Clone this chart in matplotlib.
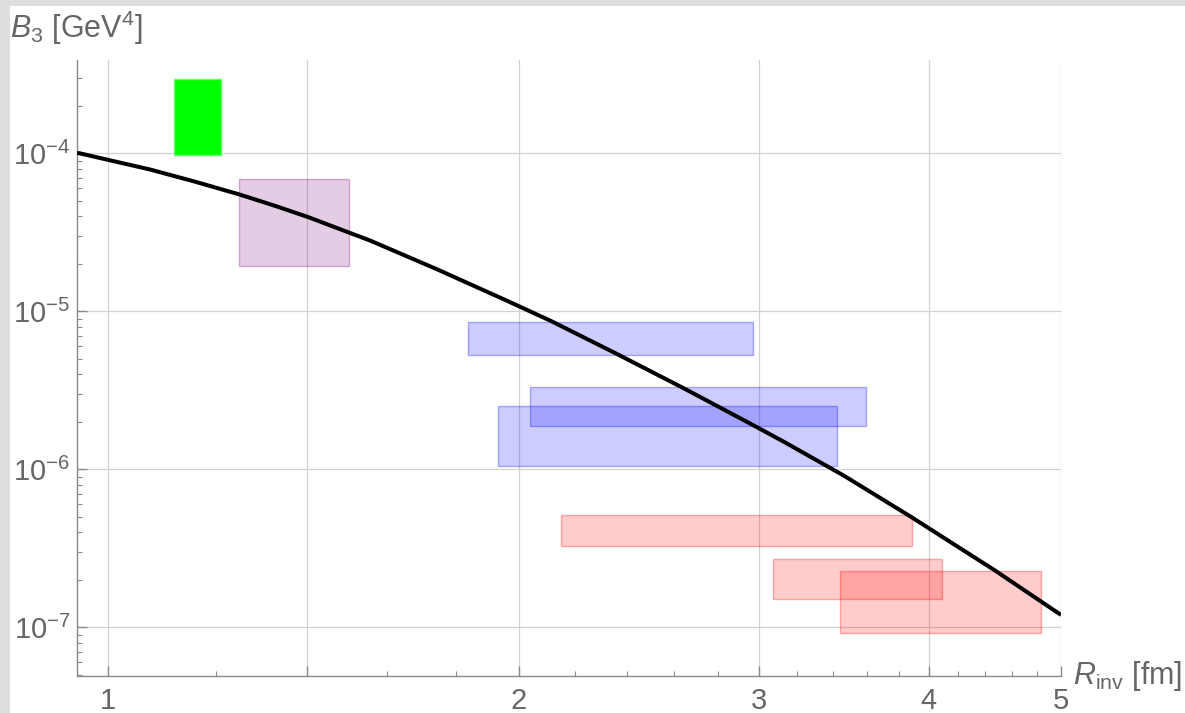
import numpy as np
import matplotlib
matplotlib.use("Agg")
import matplotlib.pyplot as plt
from matplotlib.patches import Rectangle
from matplotlib.ticker import FixedLocator, FixedFormatter, NullFormatter

plt.rcParams['font.family'] = ['Liberation Sans', 'DejaVu Sans']
plt.rcParams['mathtext.fontset'] = 'custom'
plt.rcParams['mathtext.rm'] = 'Liberation Sans'
plt.rcParams['mathtext.it'] = 'Liberation Sans:italic'
plt.rcParams['mathtext.bf'] = 'Liberation Sans:bold'

# Model curve B3(R_inv)
curve_r = [0.9489, 1.0731, 1.1578, 1.2496, 1.3256, 1.4003, 1.5569, 1.7431,
           1.9511, 2.1115, 2.3636, 2.6460, 2.9612, 3.1333, 3.4677, 3.8819,
           4.4696, 5.0]
curve_b3 = [1.009e-4, 7.905e-5, 6.621e-5, 5.478e-5, 4.652e-5, 3.963e-5,
            2.803e-5, 1.844e-5, 1.191e-5, 8.709e-6, 5.353e-6, 3.246e-6,
            1.938e-6, 1.489e-6, 9.083e-7, 4.996e-7, 2.298e-7, 1.198e-7]

# Estimate boxes: R range and B3 range
box_r_lo = [1.118, 1.248, 1.836, 2.039, 1.930, 2.149, 3.073, 3.441]
box_r_hi = [1.209, 1.501, 2.973, 3.599, 3.425, 3.888, 4.089, 4.83]
box_b_lo = [9.8e-5, 1.94e-5, 5.29e-6, 1.89e-6, 1.045e-6, 3.27e-7, 1.51e-7, 9.2e-8]
box_b_hi = [2.95e-4, 6.84e-5, 8.55e-6, 3.30e-6, 2.53e-6, 5.14e-7, 2.69e-7, 2.27e-7]
box_kind = ["green", "purple", "blue", "blue", "blue", "red", "red", "red"]

x_major = [1, 1.4, 2, 3, 4, 5]
x_major_labels = ["1", "", "2", "3", "4", "5"]
x_minor = [1.2, 1.6, 1.8, 2.2, 2.4, 2.6, 2.8, 3.2, 3.4, 3.6, 3.8,
           4.2, 4.4, 4.6, 4.8]
y_major = [1e-7, 1e-6, 1e-5, 1e-4]

styles = {
    "green": dict(facecolor=(0, 1, 0, 1.0), edgecolor=(0.4, 1, 0.4, 1.0)),
    "purple": dict(facecolor=(0.5, 0, 0.5, 0.2), edgecolor=(0.5, 0, 0.5, 0.3)),
    "blue": dict(facecolor=(0, 0, 1, 0.2), edgecolor=(0, 0, 1, 0.3)),
    "red": dict(facecolor=(1, 0, 0, 0.2), edgecolor=(1, 0, 0, 0.3)),
}

W, H = 1185, 713
fig = plt.figure(figsize=(W / 100, H / 100), dpi=100)
fig.patch.set_facecolor("white")

# light frame strips on the top and left
fig.add_artist(Rectangle((0, 1 - 6 / H), 1, 6 / H, transform=fig.transFigure,
                         facecolor="#dedede", edgecolor="none", zorder=0))
fig.add_artist(Rectangle((0, 0), 10 / W, 1, transform=fig.transFigure,
                         facecolor="#dedede", edgecolor="none", zorder=0))

ax = fig.add_axes([77.3 / W, (H - 676) / H, (1061 - 77.3) / W, (676 - 60) / H])
ax.set_xscale("log")
ax.set_yscale("log")
ax.set_xlim(0.949, 5.0)
ax.set_ylim(4.92e-8, 3.9e-4)

gray = "#666666"
axis_gray = "#8a8a8a"

for s in ["top", "right"]:
    ax.spines[s].set_visible(False)
for s in ["left", "bottom"]:
    ax.spines[s].set_color(axis_gray)
    ax.spines[s].set_linewidth(1.0)

ax.xaxis.set_major_locator(FixedLocator(x_major))
ax.xaxis.set_major_formatter(FixedFormatter(x_major_labels))
ax.xaxis.set_minor_locator(FixedLocator(x_minor))
ax.xaxis.set_minor_formatter(NullFormatter())

ax.yaxis.set_major_locator(FixedLocator(y_major))
ax.yaxis.set_major_formatter(FixedFormatter(
    [f"$10^{{{int(round(np.log10(v)))}}}$" for v in y_major]))
y_minor = [m * 10.0 ** e for e in range(-8, -3) for m in range(2, 10)]
ax.yaxis.set_minor_locator(FixedLocator(y_minor))
ax.yaxis.set_minor_formatter(NullFormatter())

ax.tick_params(which="major", direction="in", length=7, width=1,
               color=axis_gray, labelcolor=gray, labelsize=21)
ax.tick_params(which="minor", direction="in", length=3.5, width=0.8,
               color=axis_gray)
ax.tick_params(axis="x", which="major", pad=8)
ax.tick_params(axis="y", which="major", pad=5)

ax.grid(True, which="major", color="#d2d2d2", linewidth=0.9)
ax.set_axisbelow(True)

for x0, x1, y0, y1, k in zip(box_r_lo, box_r_hi, box_b_lo, box_b_hi, box_kind):
    ax.add_patch(Rectangle((x0, y0), x1 - x0, y1 - y0, linewidth=1.0,
                           zorder=2, **styles[k]))

ax.plot(curve_r, curve_b3, color="black", linewidth=2.9, zorder=3,
        solid_capstyle="butt", solid_joinstyle="round", clip_on=True)

fig.text(10 / W, 1 - 38 / H, r"$B_3$ [GeV$^4$]", color=gray, fontsize=22,
         va="baseline", ha="left")
fig.text(1073 / W, 1 - 684 / H, r"$R_{\mathrm{inv}}$ [fm]", color=gray,
         fontsize=22, va="baseline", ha="left")

fig.savefig("out.png", dpi=100, facecolor="white")
